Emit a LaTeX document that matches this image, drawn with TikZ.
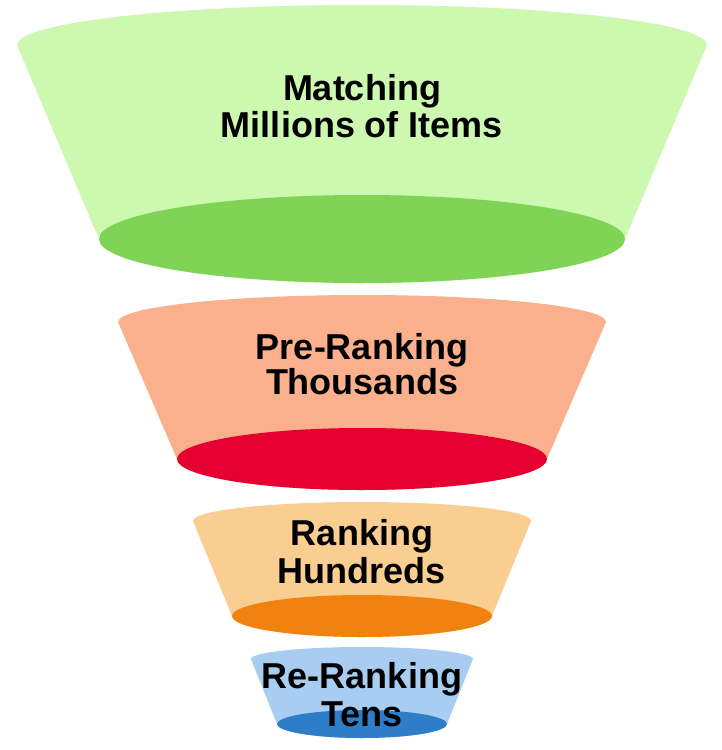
\documentclass[tikz,border=0pt]{standalone}
\usepackage{fontspec}
\setmainfont{Liberation Sans}
\definecolor{gbody}{RGB}{204,248,176}
\definecolor{gell}{RGB}{128,212,85}
\definecolor{sbody}{RGB}{250,176,140}
\definecolor{sell}{RGB}{230,0,50}
\definecolor{obody}{RGB}{250,205,145}
\definecolor{oell}{RGB}{240,130,15}
\definecolor{bbody}{RGB}{168,205,240}
\definecolor{bell}{RGB}{45,125,200}
\tikzset{
  label/.style={anchor=base, inner sep=0pt, font=\fontsize{36}{37}\selectfont\bfseries, text=black}
}
% #1 cx, #2 topY, #3 topRx, #4 topRy, #5 botY, #6 botRx, #7 botRy, #8 body, #9 ellipse
\newcommand\drawcup[9]{%
  \fill[#8] ({#1-#3},{-#2}) arc[start angle=180, end angle=0, x radius=#3pt, y radius=#4pt]
     -- ({#1+#6},{-#5}) arc[start angle=0, end angle=-180, x radius=#6pt, y radius=#7pt] -- cycle;
  \fill[#9] (#1,{-#5}) ellipse[x radius=#6pt, y radius=#7pt];
}
\begin{document}
\begin{tikzpicture}[x=1pt,y=1pt]
\useasboundingbox[fill=white] (0,0) rectangle (722,-750);
\drawcup{362}{45}{345}{40}{239}{263}{44}{gbody}{gell}
\drawcup{362}{322}{244}{27}{459}{185}{31}{sbody}{sell}
\drawcup{362}{521}{169}{19}{616}{130}{21}{obody}{oell}
\drawcup{362}{659}{111}{12}{724}{85}{14}{bbody}{bell}
\node[label] (m1) at (362,-100) {Matching};
\node[label] (m2) at (362,-137) {Millions of Items};
\node[label] (p1) at (362,-359) {Pre-Ranking};
\node[label] (p2) at (362,-394) {Thousands};
\node[label] (r1) at (362,-545) {Ranking};
\node[label] (r2) at (362,-583) {Hundreds};
\node[label] (t1) at (362,-688) {Re-Ranking};
\node[label] (t2) at (362,-726) {Tens};
\end{tikzpicture}
\end{document}
